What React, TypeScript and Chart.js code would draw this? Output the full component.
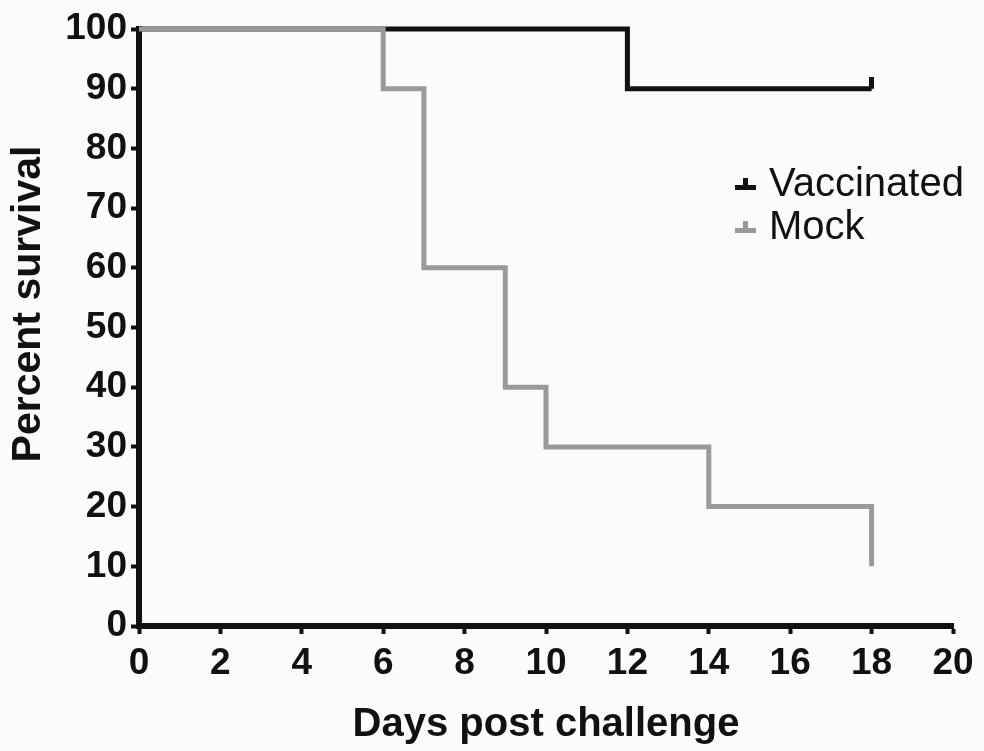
import React, { useEffect, useRef } from "react";
import { Chart, registerables } from "chart.js";

Chart.register(...registerables);

const vaccinatedDays = [0, 12, 18];
const vaccinatedSurvival = [100, 90, 90];
const mockDays = [0, 6, 7, 9, 10, 14, 18];
const mockSurvival = [100, 90, 60, 40, 30, 20, 10];
const seriesNames = ["Vaccinated", "Mock"];
const seriesColors = ["#111111", "#9a9a9a"];
const xAxisTitle = "Days post challenge";
const yAxisTitle = "Percent survival";

const W = 984;
const H = 751;
const AREA = { left: 139, right: 953, top: 29, bottom: 626 };

function makeCensorMark(color: string) {
  const c = document.createElement("canvas");
  c.width = 5;
  c.height = 24;
  const g = c.getContext("2d")!;
  g.fillStyle = color;
  g.fillRect(0, 0, 5, 12);
  return c;
}

export default function App() {
  const ref = useRef<HTMLCanvasElement | null>(null);

  useEffect(() => {
    document.body.style.margin = "0";
    const canvas = ref.current!;
    const censor = makeCensorMark(seriesColors[0]);

    const overlay = {
      id: "overlay",
      afterDraw(chart: any) {
        const ctx = chart.ctx;
        const ca = chart.chartArea;
        ctx.save();
        // y axis title
        ctx.fillStyle = "#111";
        ctx.font = "bold 41px 'Liberation Sans', Arial, sans-serif";
        ctx.textAlign = "center";
        ctx.textBaseline = "middle";
        ctx.translate(29, 304);
        ctx.rotate(-Math.PI / 2);
        ctx.fillText(yAxisTitle, 0, 0);
        ctx.restore();

        // legend
        ctx.save();
        const lx = ca.right - 218;
        const rows = [ca.top + 157, ca.top + 200];
        seriesNames.forEach((name, i) => {
          const y = rows[i];
          ctx.fillStyle = seriesColors[i];
          ctx.fillRect(lx, y - 1, 21, 5);
          ctx.fillRect(lx + 8, y - 8, 5, 8);
          ctx.fillStyle = "#111";
          ctx.font = "40px 'Liberation Sans', Arial, sans-serif";
          ctx.textAlign = "left";
          ctx.textBaseline = "middle";
          ctx.fillText(name, lx + 34, y - 1);
        });
        ctx.restore();
      },
    };

    const chart = new Chart(canvas, {
      type: "line",
      data: {
        datasets: [
          {
            label: seriesNames[0],
            data: vaccinatedDays.map((d, i) => ({ x: d, y: vaccinatedSurvival[i] })),
            borderColor: seriesColors[0],
            backgroundColor: seriesColors[0],
            borderWidth: 5,
            stepped: "before",
            order: 1,
            clip: false,
            pointStyle: censor as any,
            pointRadius: (c: any) => (c.dataIndex === vaccinatedDays.length - 1 ? 5 : 0),
            pointHoverRadius: 0,
          },
          {
            label: seriesNames[1],
            data: mockDays.map((d, i) => ({ x: d, y: mockSurvival[i] })),
            borderColor: seriesColors[1],
            backgroundColor: seriesColors[1],
            borderWidth: 5,
            stepped: "before",
            order: 0,
            clip: false,
            pointRadius: 0,
            pointHoverRadius: 0,
          },
        ],
      },
      options: {
        animation: false,
        responsive: false,
        events: [],
        layout: {
          padding: { left: 0, top: AREA.top, right: W - AREA.right, bottom: 0 },
        },
        plugins: {
          legend: { display: false },
          tooltip: { enabled: false },
        },
        scales: {
          x: {
            type: "linear",
            min: 0,
            max: 20,
            ticks: {
              stepSize: 2,
              color: "#111",
              padding: 8,
              maxRotation: 0,
              font: { family: "'Liberation Sans', Arial, sans-serif", size: 37, weight: "bold" },
            },
            grid: {
              drawOnChartArea: false,
              drawTicks: true,
              tickLength: 8,
              tickWidth: 4,
              tickColor: "#111",
            },
            border: { display: true, color: "#111", width: 6 },
            title: {
              display: true,
              text: xAxisTitle,
              color: "#111",
              padding: { top: 0, bottom: 2 },
              font: { family: "'Liberation Sans', Arial, sans-serif", size: 40, weight: "bold" },
            },
            afterFit: (s: any) => {
              s.height = H - AREA.bottom;
            },
          },
          y: {
            type: "linear",
            min: 0,
            max: 100,
            ticks: {
              stepSize: 10,
              color: "#111",
              padding: 4,
              font: { family: "'Liberation Sans', Arial, sans-serif", size: 37, weight: "bold" },
            },
            grid: {
              drawOnChartArea: false,
              drawTicks: true,
              tickLength: 8,
              tickWidth: 4,
              tickColor: "#111",
            },
            border: { display: true, color: "#111", width: 6 },
            title: { display: false },
            afterFit: (s: any) => {
              s.width = AREA.left;
            },
          },
        },
      },
      plugins: [overlay],
    } as any);

    return () => chart.destroy();
  }, []);

  return (
    <div style={{ width: W, height: H, background: "#fbfbfb" }}>
      <canvas ref={ref} width={W} height={H} style={{ display: "block" }} />
    </div>
  );
}
